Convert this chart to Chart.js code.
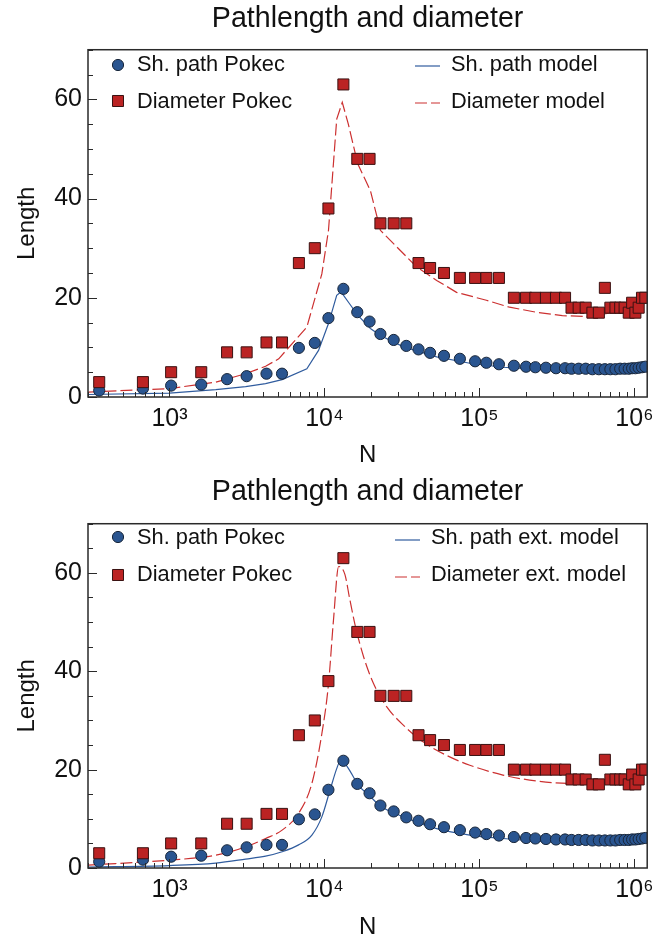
<!DOCTYPE html>
<html>
<head>
<meta charset="utf-8">
<title>Pathlength and diameter</title>
<script src="https://cdn.jsdelivr.net/npm/chart.js@4.4.1/dist/chart.umd.min.js"></script>
<style>
  html, body { margin: 0; padding: 0; background: #fff; }
  canvas { display: block; }
</style>
</head>
<body>
<canvas id="topChart" width="656" height="472"></canvas>
<canvas id="bottomChart" width="656" height="472"></canvas>
<script>
// network size N for every measured snapshot
const nValues = [352, 674, 1025, 1603, 2353, 3148, 4227, 5323, 6842, 8665,
  10610, 13250, 16290, 19550, 22970, 27980, 33740, 40460, 48060, 59060,
  74810, 93800, 110900, 133700, 166900, 200000, 229600, 268700, 312000, 357000,
  393000, 437000, 485000, 536000, 590000, 645000, 700000, 755000, 810000, 865000,
  920000, 967000, 1015000, 1066000, 1120000, 1177000];

const shPathPokec = [1.3, 1.7, 2.3, 2.5, 3.6, 4.2, 4.7, 4.7, 9.9, 10.9,
  15.9, 21.8, 17.1, 15.2, 12.7, 11.5, 10.3, 9.6, 8.9, 8.3,
  7.7, 7.2, 6.9, 6.6, 6.3, 6.1, 6.0, 5.9, 5.8, 5.8,
  5.7, 5.7, 5.7, 5.6, 5.6, 5.6, 5.6, 5.6, 5.7, 5.7,
  5.7, 5.8, 5.8, 5.9, 6.0, 6.1];

const diameterPokec = [3, 3, 5, 5, 9, 9, 11, 11, 27, 30,
  38, 63, 48, 48, 35, 35, 35, 27, 26, 25,
  24, 24, 24, 24, 20, 20, 20, 20, 20, 20,
  18, 18, 18, 17, 17, 22, 18, 18, 18, 18,
  17, 19, 17, 18, 20, 20];

// simple model (top panel)
const shModelN = [300, 1000, 1990, 3100, 4170, 5330, 7700, 9160, 10620, 12000,
  12800, 14600, 16400, 19800, 22960, 32400, 53000, 86700, 141800, 231800,
  379000, 620000, 1210000];
const shModel = [0.5, 0.8, 1.5, 2.1, 2.7, 3.5, 5.7, 9.4, 14.8, 20.5,
  21.2, 18.7, 16.5, 13.8, 12.4, 10.1, 8.1, 6.8, 6.0, 5.6,
  5.4, 5.4, 5.8];

const diamModelN = [300, 1000, 1990, 3100, 4170, 5070, 7700, 9620, 10620, 12000,
  13030, 14260, 16400, 19800, 22960, 29400, 39400, 53000, 71200, 110900,
  156400, 231800, 343000, 509000, 684000, 920000, 1210000];
const diamModel = [1.0, 1.7, 3.0, 4.7, 6.2, 7.7, 14.1, 24.8, 33.6, 56,
  59.4, 55, 47, 41.6, 33.6, 30.2, 26.2, 23.5, 21.1, 19.5,
  18.1, 17.1, 16.4, 16.2, 16.9, 17.8, 19.3];

// extended model (bottom panel)
const shExtN = [300, 1000, 1990, 3100, 4170, 5330, 6810, 8300, 9620, 10860,
  12000, 12590, 13550, 14960, 16400, 19800, 22960, 32400, 53000, 86700,
  141800, 231800, 379000, 620000, 1210000];
const shExt = [0.2, 0.5, 1.0, 1.8, 2.4, 3.3, 4.7, 6.7, 10.4, 15.8,
  20.2, 21.6, 21.2, 19.2, 17.0, 14.5, 12.6, 10.4, 8.0, 6.7,
  6.0, 5.5, 5.3, 5.3, 5.8];

const diamExtN = [300, 1000, 1990, 3100, 4170, 5330, 6810, 8300, 9620, 10620,
  11430, 12350, 13550, 14500, 15800, 17950, 20800, 25330, 32400, 43560,
  61370, 86700, 141800, 231800, 379000, 620000, 920000, 1210000];
const diamExt = [0.6, 1.6, 2.6, 4.3, 6.0, 7.7, 11.1, 17.2, 27.3, 37.4,
  50.3, 61.3, 59.7, 55, 49.3, 42.8, 37.4, 32.7, 29, 25.6,
  22.9, 20.9, 18.9, 17.7, 17.2, 17.3, 18.0, 19.2];

const xTickValues = [1e3, 1e4, 1e5, 1e6];
const xTickLabels = ["10³", "10⁴", "10⁵", "10⁶"];
const yTickValues = [0, 20, 40, 60];

const X_MIN = 298;
const X_MAX = 1.21e6;
const Y_MIN = 0;
const Y_MAX = 70;

const FONT = "'Liberation Sans', Arial, Helvetica, sans-serif";
const INK = "#111";
const FRAME = "#2a2a2a";
const BLUE_FILL = "#2a5590";
const BLUE_EDGE = "#18263a";
const RED_FILL = "#bb2323";
const RED_EDGE = "#3a1212";
const BLUE_LINE = "rgb(48,92,158)";
const RED_LINE = "rgb(204,48,48)";

Chart.defaults.font.family = FONT;
Chart.defaults.color = INK;

function pts(xs, ys) {
  return xs.map((x, i) => ({ x, y: ys[i] }));
}

// inward ticks (major + minor) and box frame
const frameTicks = {
  id: "frameTicks",
  afterDatasetsDraw(chart) {
    const { ctx, chartArea: a } = chart;
    const xs = chart.scales.x;
    const ys = chart.scales.y;
    ctx.save();
    ctx.strokeStyle = FRAME;
    ctx.lineWidth = 1;
    ctx.beginPath();
    for (let e = 2; e <= 6; e++) {
      for (let m = 1; m <= 9; m++) {
        const v = m * Math.pow(10, e);
        if (v < xs.min || v > xs.max) continue;
        const px = Math.round(xs.getPixelForValue(v)) + 0.5;
        const len = m === 1 ? 9 : 5;
        ctx.moveTo(px, a.bottom);
        ctx.lineTo(px, a.bottom - len);
      }
    }
    for (let v = Y_MIN; v <= Y_MAX; v += 5) {
      const py = Math.round(ys.getPixelForValue(v)) + 0.5;
      const len = v % 20 === 0 ? 9 : 5;
      ctx.moveTo(a.left, py);
      ctx.lineTo(a.left + len, py);
    }
    ctx.stroke();
    ctx.lineWidth = 1.5;
    ctx.strokeRect(a.left, a.top, a.right - a.left, a.bottom - a.top);
    ctx.restore();
  },
};

// two-column legend inside the plot box
const boxLegend = {
  id: "boxLegend",
  afterDraw(chart, args, opts) {
    const ctx = chart.ctx;
    ctx.save();
    ctx.font = "21.8px " + FONT;
    ctx.textBaseline = "alphabetic";
    opts.items.forEach(it => {
      const ds = chart.data.datasets[it.ds];
      if (ds.showLine) {
        ctx.strokeStyle = ds.borderColor;
        ctx.lineWidth = ds.borderWidth;
        ctx.setLineDash(ds.borderDash || []);
        ctx.beginPath();
        ctx.moveTo(it.x0, it.my);
        ctx.lineTo(it.x1, it.my);
        ctx.stroke();
        ctx.setLineDash([]);
      } else {
        ctx.fillStyle = ds.pointBackgroundColor;
        ctx.strokeStyle = ds.pointBorderColor;
        ctx.lineWidth = ds.pointBorderWidth;
        Chart.helpers.drawPoint(ctx, {
          pointStyle: ds.pointStyle,
          radius: ds.pointRadius,
          borderWidth: ds.pointBorderWidth,
          rotation: 0,
        }, it.x0, it.my);
      }
      ctx.fillStyle = INK;
      ctx.fillText(ds.label, it.tx, it.ty);
    });
    ctx.restore();
  },
};

function buildPanel(canvasId, p) {
  const ctx = document.getElementById(canvasId).getContext("2d");
  return new Chart(ctx, {
    type: "scatter",
    data: {
      datasets: [
        {
          label: "Sh. path Pokec",
          data: pts(nValues, shPathPokec),
          pointStyle: "circle",
          pointRadius: 5.6,
          pointBackgroundColor: BLUE_FILL,
          pointBorderColor: BLUE_EDGE,
          pointBorderWidth: 1,
          order: 2,
          clip: 0,
        },
        {
          label: "Diameter Pokec",
          data: pts(nValues, diameterPokec),
          pointStyle: "rect",
          pointRadius: 7.8,
          pointBackgroundColor: RED_FILL,
          pointBorderColor: RED_EDGE,
          pointBorderWidth: 1,
          order: 1,
          clip: 0,
        },
        {
          label: p.shLabel,
          data: pts(p.shN, p.sh),
          showLine: true,
          borderColor: BLUE_LINE,
          borderWidth: 1.2,
          pointRadius: 0,
          cubicInterpolationMode: p.smooth ? "monotone" : "default",
          order: 4,
          clip: 0,
        },
        {
          label: p.diamLabel,
          data: pts(p.diamN, p.diam),
          showLine: true,
          borderColor: RED_LINE,
          borderWidth: 1.2,
          borderDash: [12, 4],
          pointRadius: 0,
          cubicInterpolationMode: p.smooth ? "monotone" : "default",
          order: 3,
          clip: 0,
        },
      ],
    },
    options: {
      responsive: false,
      animation: false,
      events: [],
      layout: { padding: { left: 0, right: 5, top: 0, bottom: 0 } },
      plugins: {
        legend: { display: false },
        tooltip: { enabled: false },
        title: {
          display: true,
          text: "Pathlength and diameter",
          fullSize: false,
          color: INK,
          font: { size: 28.6, weight: "normal", lineHeight: 1.2 },
          padding: { top: p.titleTop, bottom: p.titleBottom },
        },
        boxLegend: { items: p.legend },
      },
      scales: {
        x: {
          type: "logarithmic",
          min: X_MIN,
          max: X_MAX,
          grid: { display: false, drawTicks: false },
          border: { display: false },
          ticks: {
            padding: 7,
            maxRotation: 0,
            autoSkip: false,
            color: INK,
            font: { size: 25 },
            callback: (v) => {
              const i = xTickValues.indexOf(v);
              return i >= 0 ? xTickLabels[i] : "";
            },
          },
          afterBuildTicks: (s) => { s.ticks = xTickValues.map(v => ({ value: v })); },
          afterFit: (s) => {
            s.height = p.xAxisHeight;
            s.paddingLeft = 0;
            s.paddingRight = 0;
          },
          title: {
            display: true,
            text: "N",
            color: INK,
            font: { size: 24, lineHeight: 1.2 },
            padding: { top: 0, bottom: 2 },
          },
        },
        y: {
          min: Y_MIN,
          max: Y_MAX,
          grid: { display: false, drawTicks: false },
          border: { display: false },
          ticks: { padding: 6, color: INK, font: { size: 25 } },
          afterBuildTicks: (s) => { s.ticks = yTickValues.map(v => ({ value: v })); },
          afterFit: (s) => {
            s.width = 88;
            s.paddingTop = 0;
            s.paddingBottom = 0;
          },
          title: {
            display: true,
            text: "Length",
            color: INK,
            font: { size: 24, lineHeight: 1.2 },
            padding: { top: 13, bottom: 0 },
          },
        },
      },
    },
    plugins: [frameTicks, boxLegend],
  });
}

buildPanel("topChart", {
  shLabel: "Sh. path model",
  diamLabel: "Diameter model",
  shN: shModelN, sh: shModel,
  diamN: diamModelN, diam: diamModel,
  smooth: false,
  titleTop: 2, titleBottom: 13.4,
  xAxisHeight: 75,
  legend: [
    { ds: 0, x0: 118, my: 65, tx: 137, ty: 71 },
    { ds: 1, x0: 118, my: 101, tx: 137, ty: 108 },
    { ds: 2, x0: 415, x1: 440, my: 66, tx: 451, ty: 71 },
    { ds: 3, x0: 415, x1: 440, my: 103, tx: 451, ty: 108 },
  ],
});

buildPanel("bottomChart", {
  shLabel: "Sh. path ext. model",
  diamLabel: "Diameter ext. model",
  shN: shExtN, sh: shExt,
  diamN: diamExtN, diam: diamExt,
  smooth: true,
  titleTop: 3, titleBottom: 14.4,
  xAxisHeight: 76,
  legend: [
    { ds: 0, x0: 118, my: 65, tx: 137, ty: 72 },
    { ds: 1, x0: 118, my: 103, tx: 137, ty: 109 },
    { ds: 2, x0: 395, x1: 420, my: 68, tx: 431, ty: 72 },
    { ds: 3, x0: 395, x1: 420, my: 105, tx: 431, ty: 109 },
  ],
});
</script>
</body>
</html>
